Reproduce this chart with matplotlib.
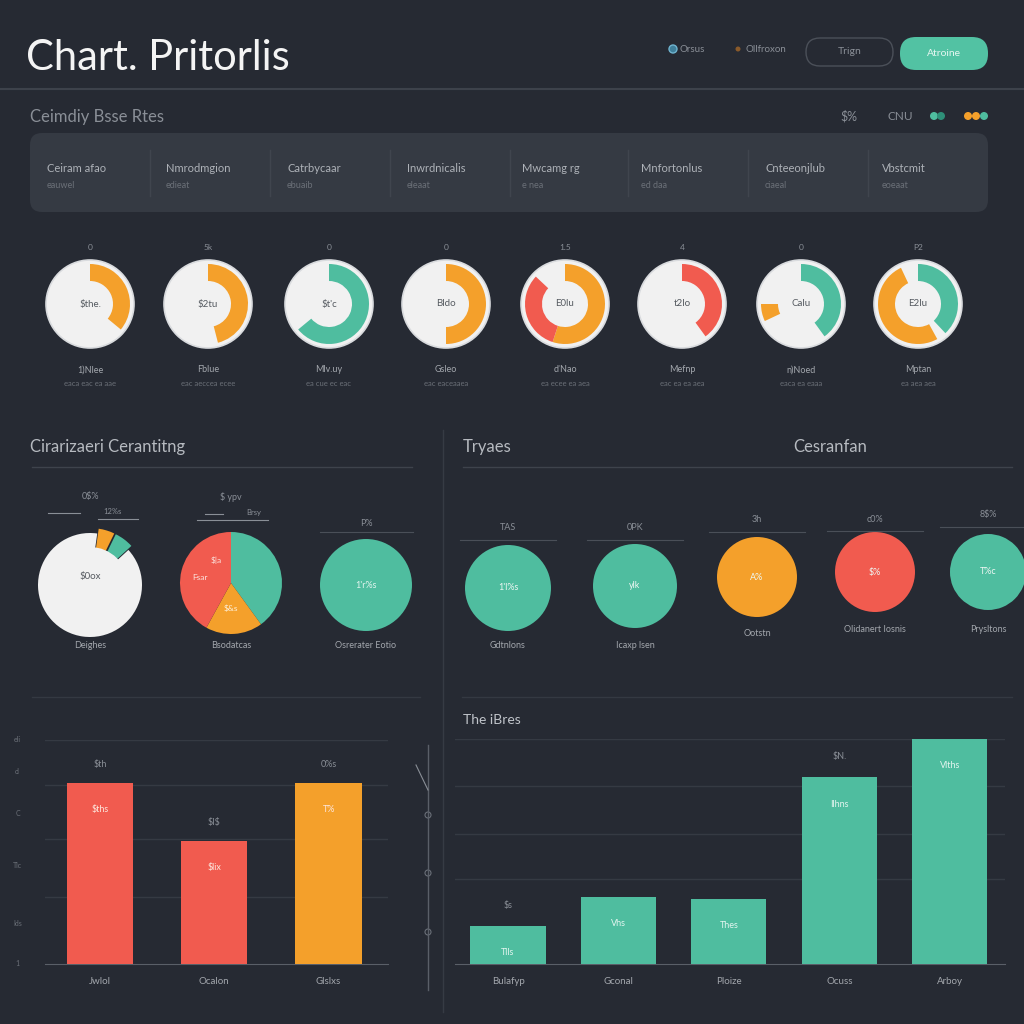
import matplotlib.pyplot as plt
from matplotlib.patches import Circle, FancyBboxPatch
from matplotlib.lines import Line2D

W = H = 1024

BG = '#262a33'
CARD = '#353a43'
LINE = '#3e434c'
TEXT = '#c9ccd1'
DIM = '#8a8f97'
FAINT = '#6b7078'
ORANGE = '#f4a02b'
TEAL = '#4fbd9f'
RED = '#f15b4f'
WHITE = '#f1f1f1'

# ---- data -----------------------------------------------------------------
title = "Chart. Pritorlis"
header_links = ["Orsus", "Ollfroxon"]
header_buttons = ["Trign", "Atroine"]
section_title = "Ceimdiy Bsse Rtes"
card_labels = ["Ceiram afao", "Nmrodmgion", "Catrbycaar", "Inwrdnicalis",
               "Mwcamg rg", "Mnfortonlus", "Cnteeonjlub", "Vbstcmit"]
card_sublabels = ["eauwel", "edieat", "ebuaib", "eleaat",
                  "e nea", "ed daa", "ciaeal", "eoeaat"]

donut_top = ["0", "5k", "0", "0", "1.5", "4", "0", "P2"]
donut_center = ["$the.", "$2tu", "$t'c", "Bldo", "E0lu", "t2lo", "Calu", "E2lu"]
donut_names = ["1)Nlee", "Fblue", "Mlv.uy", "Gsleo", "d'Nao", "Mefnp", "n)Noed", "Mptan"]
donut_subs = ["eaca eac ea aae", "eac aeccea ecee", "ea cue ec eac", "eac eaceaaea",
              "ea ecee ea aea", "eac ea ea aea", "eaca ea eaaa", "ea aea aea"]
# fractions from 12 o'clock clockwise; None = empty part of the ring
donut_values = [[0.36], [0.46], [0.64], [0.50], [0.55, 0.32], [0.40],
                [0.40, 0.28, 0.07], [0.38, 0.04, 0.51]]
donut_colors = [[ORANGE], [ORANGE], [TEAL], [ORANGE], [ORANGE, RED], [RED],
                [TEAL, None, ORANGE], [TEAL, None, ORANGE]]

left_title = "Cirarizaeri Cerantitng"
right_title = "Tryaes"
right_title2 = "Cesranfan"

pie1_values = [0.05, 0.06, 0.89]
pie1_colors = [ORANGE, TEAL, WHITE]
pie2_values = [0.40, 0.18, 0.42]
pie2_colors = [TEAL, ORANGE, RED]
pie_tops = ["0$%", "$ ypv", "P%"]
pie_names = ["Deighes", "Bsodatcas", "Osrerater Eotio"]
pie_inner = ["$0ox", "", "1'r%s"]

circle_tops = ["TAS", "0PK", "3h", "c0%", "8$%"]
circle_inner = ["1'l%s", "ylk", "A%", "$%", "T%c"]
circle_names = ["Gdtnlons", "Icaxp lsen", "Ootstn", "Olidanert Iosnis", "Prysltons"]
circle_colors = [TEAL, TEAL, ORANGE, RED, TEAL]

left_bar_cats = ["Jwlol", "Ocalon", "Glslxs"]
left_bar_values = [81, 55, 81]
left_bar_colors = [RED, RED, ORANGE]
left_bar_top = ["$th", "$I$", "0%s"]
left_bar_inner = ["$ths", "$lix", "T%"]
left_ticks = [0, 30, 56, 80, 100]
left_tick_labels = ["1", "Ids", "Tlc", "C", "cl", "eli"]

right_bar_title = "The iBres"
right_bar_cats = ["Bulafyp", "Gconal", "Ploize", "Ocuss", "Arboy"]
right_bar_values = [17, 30, 29, 83, 100]
right_bar_top = ["$s", "", "", "$N.", ""]
right_bar_inner = ["Tlls", "Vhs", "Thes", "Ilhns", "Vlths"]
right_ticks = [38, 58, 79, 100]


# ---- helpers --------------------------------------------------------------
def fx(x):
    return x / W


def fy(y):
    return 1 - y / H


def label(x, y, s, size, color, ha='left', **kw):
    fig.text(fx(x), fy(y), s, fontsize=size, color=color, ha=ha, va='center',
             parse_math=False, **kw)


def hline(x0, x1, y, color=LINE, lw=1.0):
    fig.add_artist(Line2D([fx(x0), fx(x1)], [fy(y), fy(y)], color=color, lw=lw))


def vline(x, y0, y1, color=LINE, lw=1.0):
    fig.add_artist(Line2D([fx(x), fx(x)], [fy(y0), fy(y1)], color=color, lw=lw))


def px_axes(x0, y0, x1, y1):
    ax = fig.add_axes([fx(x0), fy(y1), (x1 - x0) / W, (y1 - y0) / H])
    ax.set_facecolor('none')
    return ax


def round_box(x0, y0, x1, y1, fc, ec='none', pad=12, lw=1.0):
    fig.add_artist(FancyBboxPatch((fx(x0), fy(y1)), (x1 - x0) / W, (y1 - y0) / H,
                                  boxstyle=f"round,pad=0,rounding_size={pad / W}",
                                  fc=fc, ec=ec, lw=lw, transform=fig.transFigure))


def bar_text(ax, x, y, s, size, color):
    ax.text(x, y, s, fontsize=size, color=color, ha='center', va='center',
            clip_on=False, parse_math=False)


plt.rcParams['font.family'] = ['Lato', 'DejaVu Sans']
fig = plt.figure(figsize=(10.24, 10.24), dpi=100, facecolor=BG)

# ---- header ---------------------------------------------------------------
label(26, 58, title, 30, '#f4f4f4')
fig.add_artist(Circle((fx(673), fy(49)), 4 / W, fc='#3f7f9a', ec='#6fb3cf', lw=1,
                      transform=fig.transFigure))
label(680, 50, header_links[0], 7, DIM)
fig.add_artist(Circle((fx(738), fy(49)), 2.5 / W, fc='#8a5a2a', transform=fig.transFigure))
label(745, 50, header_links[1], 7, DIM)
round_box(806, 38, 893, 66, 'none', ec='#4b5059', pad=14)
label(850, 52, header_buttons[0], 7.5, DIM, ha='center')
round_box(900, 37, 988, 70, '#52c2a3', pad=16)
label(944, 53, header_buttons[1], 7.5, '#e6f6f1', ha='center')
hline(0, 1024, 89, color='#3d424b', lw=1.5)

label(30, 117, section_title, 12, DIM)
label(840, 116, "$%", 9, DIM)
label(888, 116, "CNU", 8.5, DIM)
for cx, c in [(934, TEAL), (941, '#2e8f78'), (968, ORANGE), (976, ORANGE), (984, TEAL)]:
    fig.add_artist(Circle((fx(cx), fy(116)), 4 / W, fc=c, transform=fig.transFigure))

# ---- summary card ---------------------------------------------------------
round_box(30, 133, 988, 212, CARD, pad=12)
card_x = [47, 166, 287, 407, 522, 641, 765, 882]
for i, (t, s) in enumerate(zip(card_labels, card_sublabels)):
    label(card_x[i], 169, t, 8, '#aeb2b8')
    label(card_x[i], 185, s, 6.5, FAINT)
for x in [150, 270, 390, 510, 628, 748, 868]:
    vline(x, 150, 196, color='#40454e')

# ---- donut row ------------------------------------------------------------
donut_x = [90, 208, 329, 446, 565, 682, 801, 918]
donut_y = 304
for i, cx in enumerate(donut_x):
    ax = px_axes(cx - 50, donut_y - 50, cx + 50, donut_y + 50)
    ax.add_patch(Circle((0, 0), 44, fc=WHITE, ec='#d9dbde', lw=1.2))
    vals = list(donut_values[i])
    cols = ['none' if c is None else c for c in donut_colors[i]]
    vals.append(1 - sum(vals))
    cols.append('none')
    ax.pie(vals, colors=cols, radius=40, startangle=90, counterclock=False,
           wedgeprops=dict(width=17, linewidth=0))
    ax.set_xlim(-50, 50)
    ax.set_ylim(-50, 50)
    ax.axis('off')
    label(cx, 247, donut_top[i], 6, DIM, ha='center')
    label(cx, donut_y, donut_center[i], 7, '#555a60', ha='center')
    label(cx, 370, donut_names[i], 6.5, '#a3a7ad', ha='center')
    label(cx, 384, donut_subs[i], 5.5, FAINT, ha='center')

# ---- middle section -------------------------------------------------------
vline(443, 430, 1012, color='#363b44')
label(30, 447, left_title, 12, '#b6bac0')
hline(32, 412, 467)
label(463, 447, right_title, 12, '#b6bac0')
label(793, 447, right_title2, 12, '#b6bac0')
hline(463, 1012, 467)

# pie 1: thin slices stick out at the top right of a white disc
ax = px_axes(30, 525, 150, 645)
ax.pie(pie1_values, colors=pie1_colors, radius=52, startangle=82, counterclock=False,
       explode=[5, 5, 0], wedgeprops=dict(linewidth=0))
ax.add_patch(Circle((0, 0), 38, fc=WHITE, ec='none', zorder=5))
ax.set_xlim(-60, 60)
ax.set_ylim(-60, 60)
ax.axis('off')
label(90, 577, pie_inner[0], 7, '#555a60', ha='center')

# pie 2
ax = px_axes(171, 523, 291, 643)
ax.pie(pie2_values, colors=pie2_colors, radius=51, startangle=90, counterclock=False,
       wedgeprops=dict(linewidth=0))
ax.set_xlim(-60, 60)
ax.set_ylim(-60, 60)
ax.axis('off')
label(200, 578, "Fsar", 6, '#fbe3de', ha='center')
label(216, 560, "$|a", 6, '#fbe3de', ha='center')
label(231, 608, "$&s", 6, '#fdf0da', ha='center')

# circle 3
ax = px_axes(316, 535, 416, 635)
ax.pie([1], colors=[TEAL], radius=46, wedgeprops=dict(linewidth=0))
ax.set_xlim(-50, 50)
ax.set_ylim(-50, 50)
ax.axis('off')
label(366, 585, pie_inner[2], 6.5, '#e3f5ef', ha='center')

pie_x = [90, 231, 366]
pie_top_y = [496, 497, 523]
for i, cx in enumerate(pie_x):
    label(cx, pie_top_y[i], pie_tops[i], 6.5, DIM, ha='center')
    label(cx, 645, pie_names[i], 6.5, '#a3a7ad', ha='center')
hline(48, 80, 513, color='#8a8f97', lw=0.8)
hline(98, 138, 519, color='#8a8f97', lw=0.8)
label(112, 511, "12%s", 5.5, DIM, ha='center')
hline(205, 223, 514, color='#8a8f97', lw=0.8)
hline(197, 268, 520, color='#8a8f97', lw=0.8)
label(254, 512, "Brsy", 5.5, DIM, ha='center')
hline(320, 413, 532, color='#4a4f58', lw=0.8)

circle_x = [508, 635, 757, 875, 988]
circle_y = [588, 586, 577, 572, 572]
circle_r = [43, 42, 40, 40, 38]
circle_top_y = [528, 528, 520, 519, 515]
circle_name_y = [645, 645, 633, 629, 629]
for i, cx in enumerate(circle_x):
    cy = circle_y[i]
    ax = px_axes(cx - 50, cy - 50, cx + 50, cy + 50)
    ax.pie([1], colors=[circle_colors[i]], radius=circle_r[i], wedgeprops=dict(linewidth=0))
    ax.set_xlim(-50, 50)
    ax.set_ylim(-50, 50)
    ax.axis('off')
    label(cx, cy, circle_inner[i], 6.5, '#eef7f3', ha='center')
    label(cx, circle_top_y[i], circle_tops[i], 6.5, DIM, ha='center')
    hline(cx - 48, cx + 48, circle_top_y[i] + 12, color='#4a4f58', lw=0.8)
    label(cx, circle_name_y[i], circle_names[i], 6.5, '#a3a7ad', ha='center')

hline(32, 420, 697, color='#343942')
hline(462, 1012, 697, color='#343942')

# ---- bottom left bars -----------------------------------------------------
ax = px_axes(45, 740, 388, 964)
pos = range(len(left_bar_cats))
ax.bar(pos, left_bar_values, width=0.58, color=left_bar_colors, zorder=3)
ax.set_xlim(-0.48, 2.52)
ax.set_ylim(0, 100)
ax.set_yticks(left_ticks[1:])
ax.grid(axis='y', color='#353a43', lw=1, zorder=0)
ax.tick_params(length=0, labelleft=False, labelbottom=False)
for s in ['top', 'right', 'left']:
    ax.spines[s].set_visible(False)
ax.spines['bottom'].set_color('#5a5f68')
for i, v in enumerate(left_bar_values):
    bar_text(ax, i, v + 8, left_bar_top[i], 6.5, DIM)
    bar_text(ax, i, v - 12, left_bar_inner[i], 6.5, '#fde6dc')
    bar_text(ax, i, -8, left_bar_cats[i], 7, '#a3a7ad')
for t, s in zip([0, 18, 44, 67, 86, 100], left_tick_labels):
    bar_text(ax, -0.72, t, s, 5, FAINT)

# decorative axis in the middle
vline(428, 745, 990, color='#5a5f68', lw=1)
for yy in [815, 873, 932]:
    fig.add_artist(Circle((fx(428), fy(yy)), 3 / W, fc='none', ec='#6a6f78', lw=0.8,
                          transform=fig.transFigure))
fig.add_artist(Line2D([fx(416), fx(428)], [fy(765), fy(790)], color='#8a8f97', lw=0.8))

# ---- bottom right bars ----------------------------------------------------
label(463, 720, right_bar_title, 10, '#c0c4ca')
ax = px_axes(455, 739, 1005, 964)
pos = range(len(right_bar_cats))
ax.bar(pos, right_bar_values, width=0.68, color=TEAL, zorder=3)
ax.set_xlim(-0.48, 4.5)
ax.set_ylim(0, 100)
ax.set_yticks(right_ticks)
ax.grid(axis='y', color='#353a43', lw=1, zorder=0)
ax.tick_params(length=0, labelleft=False, labelbottom=False)
for s in ['top', 'right', 'left']:
    ax.spines[s].set_visible(False)
ax.spines['bottom'].set_color('#5a5f68')
for i, v in enumerate(right_bar_values):
    if right_bar_top[i]:
        bar_text(ax, i, v + 9, right_bar_top[i], 6.5, DIM)
    bar_text(ax, i, v - 12, right_bar_inner[i], 6.5, '#e3f5ef')
    bar_text(ax, i, -8, right_bar_cats[i], 7, '#a3a7ad')

fig.savefig('out.png', dpi=100, facecolor=BG)
